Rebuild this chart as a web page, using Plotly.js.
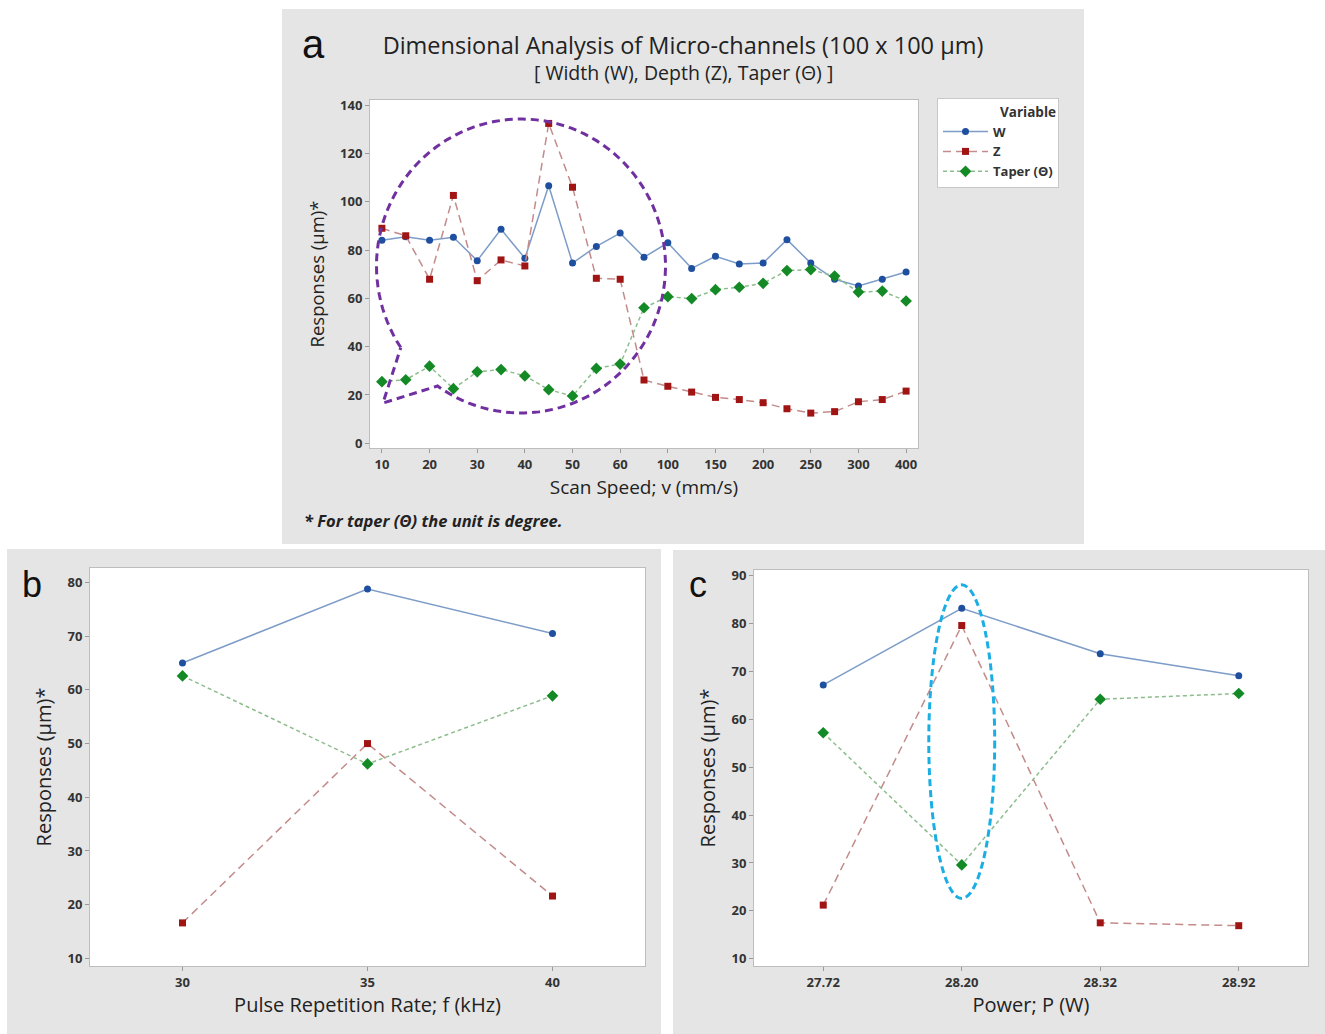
<!DOCTYPE html>
<html><head><meta charset="utf-8">
<script src="https://cdn.plot.ly/plotly-3.0.1.min.js"></script>
<style>
body{margin:0;background:#fff;width:1325px;height:1034px;position:relative;overflow:hidden;}
.p{position:absolute;}
</style></head><body>
<div id="pa" class="p" style="left:282px;top:9px;width:802px;height:535px"></div>
<div id="pb" class="p" style="left:7px;top:549px;width:654px;height:485px"></div>
<div id="pc" class="p" style="left:673px;top:550px;width:652px;height:484px"></div>
<script>
// ---------- data ----------
const seriesNames = ["W", "Z", "Taper (Θ)"];

const speedCats = ["10","15","20","25","30","35","40","45","50","55","60","75","100","125","150","175","200","225","250","275","300","350","400"];
const speedTickLabels = ["10","20","30","40","50","60","100","150","200","250","300","400"];
const speedW = [84, 85.5, 84, 85.3, 75.6, 88.6, 76.6, 106.6, 74.6, 81.5, 87, 77, 83, 72.4, 77.4, 74.2, 74.6, 84.3, 74.6, 67.9, 65.1, 67.9, 70.9];
const speedZ = [89, 85.9, 67.9, 102.6, 67.3, 75.9, 73.4, 132.4, 106, 68.3, 67.9, 26.2, 23.6, 21.2, 19, 18.1, 16.8, 14.3, 12.5, 13.1, 17.2, 18.1, 21.6];
const speedTaper = [25.5, 26.3, 31.9, 22.6, 29.6, 30.5, 27.9, 22.2, 19.6, 31, 32.8, 56.1, 60.7, 59.9, 63.6, 64.6, 66.2, 71.5, 71.9, 69.2, 62.6, 63, 58.9];

const freqCats = ["30", "35", "40"];
const freqW = [65.0, 78.8, 70.5];
const freqZ = [16.6, 50.0, 21.6];
const freqTaper = [62.6, 46.2, 58.9];

const powerCats = ["27.72", "28.20", "28.32", "28.92"];
const powerW = [67.2, 83.2, 73.7, 69.1];
const powerZ = [21.2, 79.6, 17.5, 16.9];
const powerTaper = [57.2, 29.6, 64.2, 65.4];

// ---------- styles ----------
const FONT = "'Open Sans', 'Noto Sans', sans-serif";
const BG = '#e5e5e5';
const styles = [
  {line:{color:'#7d9dc8', width:1.5, dash:'solid'}, marker:{symbol:'circle', size:7, color:'#1f4f9f'}},
  {line:{color:'#c48b8b', width:1.5, dash:'8px,5px'}, marker:{symbol:'square', size:7, color:'#a01414'}},
  {line:{color:'#8dbd8d', width:1.5, dash:'4px,3px'}, marker:{symbol:'diamond', size:9, color:'#148a26'}}
];

function traces(x, ys, showlegend){
  return ys.map((y, i) => ({
    type:'scatter', mode:'lines+markers', name:seriesNames[i], x:x, y:y,
    line:styles[i].line, marker:styles[i].marker, showlegend:showlegend
  }));
}

function axisBase(){
  return {
    showline:true, mirror:true, linecolor:'#bdbdbd', linewidth:1,
    ticks:'outside', ticklen:4, tickcolor:'#9a9a9a',
    showgrid:false, zeroline:false,
    tickfont:{family:FONT, size:13, weight:'bold', color:'#333'}
  };
}

// ---------- speech bubble (plot-area pixel geometry -> paper) ----------
function bubblePath(W, H){
  const cx = 151, cy = 166, rx = 144.5, ry = 147;
  const a0 = 146.3 * Math.PI/180, a1 = (125.3 + 360) * Math.PI/180;
  const pts = [];
  const n = 120;
  for (let k = 0; k <= n; k++){
    const a = a0 + (a1 - a0) * k / n;
    pts.push([cx + rx*Math.cos(a), cy + ry*Math.sin(a)]);
  }
  pts.push([13, 303]);
  pts.push([cx + rx*Math.cos(a0), cy + ry*Math.sin(a0)]);
  return pts.map((p, k) => (k ? 'L' : 'M') + (p[0]/W).toFixed(4) + ',' + (1 - p[1]/H).toFixed(4)).join(' ');
}

// ---------- panel a ----------
const layoutA = {
  width:802, height:535,
  margin:{l:88, r:166, t:91, b:96},
  paper_bgcolor:BG, plot_bgcolor:'#fff',
  font:{family:FONT, color:'#333'},
  title:{
    text:'Dimensional Analysis of Micro-channels (100 x 100 μm)',
    font:{family:FONT, size:23.5, color:'#222'},
    x:(683-282)/802, xref:'container', xanchor:'center',
    y:1 - 37/535, yref:'container', yanchor:'middle'
  },
  xaxis:Object.assign(axisBase(), {
    type:'category', range:[-0.5, 22.5], categoryorder:'array', categoryarray:speedCats,
    tickvals:speedTickLabels, ticktext:speedTickLabels,
    title:{text:'Scan Speed; v (mm/s)', font:{family:FONT, size:19, color:'#222'}, standoff:9}
  }),
  yaxis:Object.assign(axisBase(), {
    range:[-1.95, 142.1], tick0:0, dtick:20,
    title:{text:'Responses (μm)*', font:{family:FONT, size:18.5, color:'#222'}, standoff:10}
  }),
  legend:{
    x:(937-370)/548, y:(448-98)/348, xanchor:'left', yanchor:'top',
    xref:'paper', yref:'paper',
    bgcolor:'#fff', bordercolor:'#c8c8c8', borderwidth:1,
    itemwidth:45,
    font:{family:FONT, size:13, weight:'bold', color:'#333'},
    title:{text:'Variable', side:'top right', font:{family:FONT, size:13.5, weight:'bold', color:'#333'}},
    traceorder:'normal'
  },
  shapes:[{
    type:'path', xref:'paper', yref:'paper', path:bubblePath(548, 348),
    line:{color:'#7030a0', width:3, dash:'8px,5px'}, fillcolor:'rgba(0,0,0,0)'
  }],
  annotations:[
    {text:'[ Width (W), Depth (Z), Taper (Θ) ]', xref:'paper', yref:'paper',
     x:(683-370)/548, y:(448-72)/348, xanchor:'center', yanchor:'middle', showarrow:false,
     font:{family:FONT, size:19.5, color:'#222'}},
    {text:'a', xref:'paper', yref:'paper', x:(313-370)/548, y:(448-44)/348, xanchor:'center', yanchor:'middle',
     showarrow:false, font:{family:"'Liberation Sans', Arial, sans-serif", size:40, color:'#111'}},
    {text:'<b><i>* For taper (Θ) the unit is degree.</i></b>', xref:'paper', yref:'paper',
     x:(302-370)/548, y:(448-521)/348, xanchor:'left', yanchor:'middle', showarrow:false,
     font:{family:FONT, size:16.5, color:'#222'}}
  ]
};
Plotly.newPlot('pa', traces(speedCats, [speedW, speedZ, speedTaper], true), layoutA, {displayModeBar:false, staticPlot:true});

// ---------- panel b ----------
const layoutB = {
  width:654, height:485,
  margin:{l:83, r:15.6, t:19.3, b:68},
  paper_bgcolor:BG, plot_bgcolor:'#fff',
  font:{family:FONT, color:'#333'},
  showlegend:false,
  xaxis:Object.assign(axisBase(), {
    type:'category', range:[-0.5, 2.5],
    title:{text:'Pulse Repetition Rate; f (kHz)', font:{family:FONT, size:20, color:'#222'}, standoff:7}
  }),
  yaxis:Object.assign(axisBase(), {
    range:[8.57, 82.7], tick0:10, dtick:10,
    title:{text:'Responses (μm)*', font:{family:FONT, size:20, color:'#222'}, standoff:10}
  }),
  annotations:[
    {text:'b', xref:'paper', yref:'paper', x:(32-90)/555.4, y:(966-585)/397.7, xanchor:'center', yanchor:'middle',
     showarrow:false, font:{family:"'Liberation Sans', Arial, sans-serif", size:36, color:'#111'}}
  ]
};
Plotly.newPlot('pb', traces(freqCats, [freqW, freqZ, freqTaper], false), layoutB, {displayModeBar:false, staticPlot:true});

// ---------- panel c ----------
const layoutC = {
  width:652, height:484,
  margin:{l:81.3, r:16.5, t:20, b:68},
  paper_bgcolor:BG, plot_bgcolor:'#fff',
  font:{family:FONT, color:'#333'},
  showlegend:false,
  xaxis:Object.assign(axisBase(), {
    type:'category', range:[-0.5, 3.5],
    title:{text:'Power; P (W)', font:{family:FONT, size:20, color:'#222'}, standoff:7}
  }),
  yaxis:Object.assign(axisBase(), {
    range:[8.48, 91.2], tick0:10, dtick:10,
    title:{text:'Responses (μm)*', font:{family:FONT, size:20, color:'#222'}, standoff:10}
  }),
  shapes:[{
    type:'circle', xref:'x', yref:'y', x0:1 - 0.238, x1:1 + 0.238, y0:22.6, y1:88.1,
    line:{color:'#1aaee4', width:3, dash:'7px,4px'}
  }],
  annotations:[
    {text:'c', xref:'paper', yref:'paper', x:(698-754.3)/554.2, y:(966-585)/396, xanchor:'center', yanchor:'middle',
     showarrow:false, font:{family:"'Liberation Sans', Arial, sans-serif", size:36, color:'#111'}}
  ]
};
Plotly.newPlot('pc', traces(powerCats, [powerW, powerZ, powerTaper], false), layoutC, {displayModeBar:false, staticPlot:true});
</script>
</body></html>
